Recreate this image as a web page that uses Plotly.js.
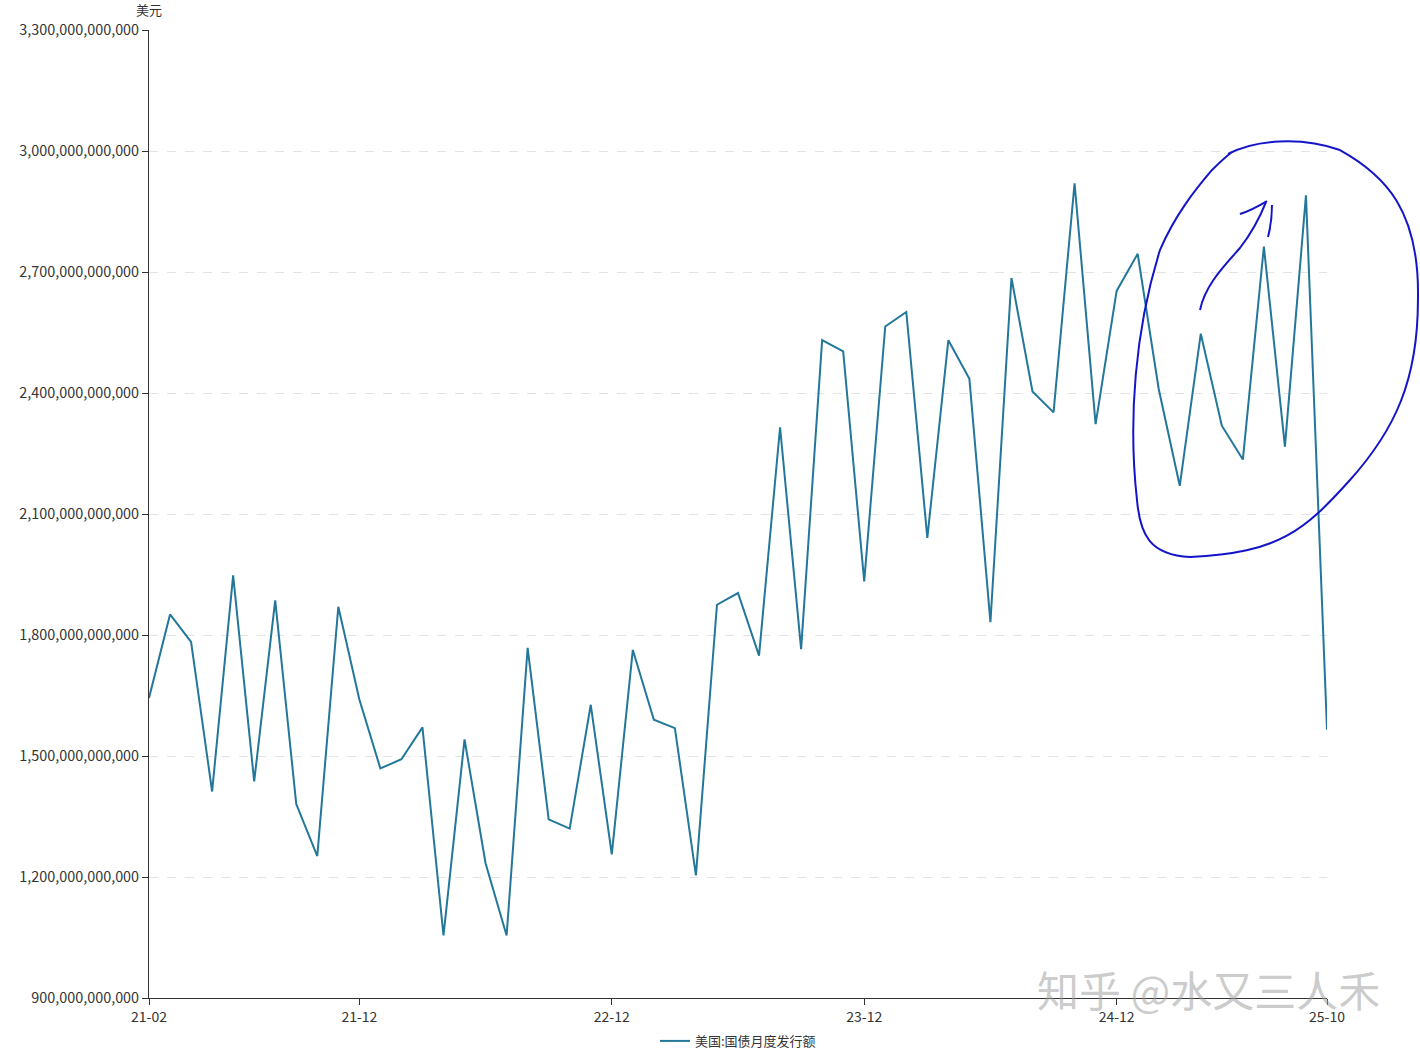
<!DOCTYPE html>
<html>
<head>
<meta charset="utf-8">
<script src="https://cdn.plot.ly/plotly-3.0.1.min.js"></script>
<style>html,body{margin:0;padding:0;background:#fff;}#chart{width:1420px;height:1052px;}</style>
</head>
<body>
<div id="chart"></div>
<script>
// Monthly labels 21-02 .. 25-10
const months = [
 "21-02","21-03","21-04","21-05","21-06","21-07","21-08","21-09","21-10","21-11","21-12",
 "22-01","22-02","22-03","22-04","22-05","22-06","22-07","22-08","22-09","22-10","22-11","22-12",
 "23-01","23-02","23-03","23-04","23-05","23-06","23-07","23-08","23-09","23-10","23-11","23-12",
 "24-01","24-02","24-03","24-04","24-05","24-06","24-07","24-08","24-09","24-10","24-11","24-12",
 "25-01","25-02","25-03","25-04","25-05","25-06","25-07","25-08","25-09","25-10"
];
// Issuance in billions USD
const issuanceBn = [
 1644,1851,1783,1412,1948,1437,1886,1381,1252,1870,1640,
 1469,1492,1571,1055,1541,1234,1055,1768,1343,1320,1627,1256,
 1763,1590,1569,1204,1875,1904,1749,2315,1765,2531,2503,1933,
 2565,2601,2041,2531,2435,1832,2685,2404,2352,2920,2323,2653,
 2745,2410,2170,2547,2319,2235,2763,2267,2890,1565
];
const xTickLabels = ["21-02","21-12","22-12","23-12","24-12","25-10"];
const yTickVals = [900,1200,1500,1800,2100,2400,2700,3000,3300].map(v => v*1e9);
const yTickText = yTickVals.map(v => v.toLocaleString('en-US'));
const seriesName = "美国:国债月度发行额";

const values = issuanceBn.map(v => v*1e9);

// helper for decorative overlay positioned in pixel space
const L = 149, R = 1327, T = 30, B = 998;
const px = (x) => ((x - L) / (R - L)).toFixed(4);
const py = (y) => ((B - y) / (B - T)).toFixed(4);
function pathFrom(pts) {
  let d = "M " + px(pts[0][0]) + "," + py(pts[0][1]);
  for (let i = 1; i + 2 < pts.length; i += 3) {
    d += " C " + px(pts[i][0]) + "," + py(pts[i][1]) + " " + px(pts[i+1][0]) + "," + py(pts[i+1][1]) + " " + px(pts[i+2][0]) + "," + py(pts[i+2][1]);
  }
  return d;
}
const circlePts = [
 [1228,154],[1255,140],[1300,136],[1340,150],
 [1385,175],[1420,210],[1418,300],
 [1418,380],[1395,430],[1350,480],
 [1305,530],[1280,553],[1190,557],
 [1150,555],[1140,535],[1137,500],
 [1128,420],[1135,330],[1160,250],
 [1175,215],[1195,190],[1212,170],
 [1218,164],[1224,158],[1232,152]
];
const arrowPts = [[1200,310],[1205,285],[1225,265],[1240,248],[1250,235],[1258,222],[1266,202]];

const trace = {
  x: months,
  y: values,
  type: 'scatter',
  mode: 'lines',
  name: seriesName,
  line: {color: '#23779a', width: 2},
  hoverinfo: 'x+y'
};

const layout = {
  width: 1420, height: 1052,
  margin: {l: 149, r: 93, t: 30, b: 54},
  paper_bgcolor: '#fff', plot_bgcolor: '#fff',
  font: {family: '"Microsoft YaHei","Noto Sans CJK SC","Noto Sans",sans-serif', size: 13, color: '#333'},
  showlegend: true,
  legend: {orientation: 'h', x: 0.5, xanchor: 'center', xref: 'paper', yref: 'container', y: 0.0105, yanchor: 'middle', font: {size: 13, color: '#333'}},
  xaxis: {
    type: 'category',
    range: [0, months.length - 1],
    tickmode: 'array', tickvals: xTickLabels, ticktext: xTickLabels,
    ticks: 'outside', ticklen: 6, tickcolor: '#333',
    showline: true, linecolor: '#333', linewidth: 1,
    showgrid: false, zeroline: false, automargin: false,
    tickfont: {size: 14, color: '#333'}
  },
  yaxis: {
    range: [900e9, 3300e9],
    tickmode: 'array', tickvals: yTickVals, ticktext: yTickText,
    ticks: 'outside', ticklen: 6, tickcolor: '#333',
    showline: true, linecolor: '#333', linewidth: 1,
    showgrid: true, gridcolor: '#e3e3e3', griddash: 'dash', gridwidth: 1,
    zeroline: false, automargin: false,
    tickfont: {size: 14.4, color: '#333'}
  },
  annotations: [
    {text: '美元', xref: 'paper', yref: 'paper', x: 0, y: 1, xanchor: 'center', yanchor: 'bottom', yshift: 9, showarrow: false, font: {size: 13, color: '#333'}},
    {text: '知乎 @水又三人禾', xref: 'paper', yref: 'paper', x: px(1209), y: py(988), xanchor: 'center', yanchor: 'middle', showarrow: false,
     font: {size: 42, color: 'rgba(160,160,160,0.55)'}}
  ],
  shapes: [
    {type: 'path', xref: 'paper', yref: 'paper', path: pathFrom(circlePts), line: {color: '#1414c8', width: 2}},
    {type: 'path', xref: 'paper', yref: 'paper', path: pathFrom(arrowPts), line: {color: '#1414c8', width: 2}},
    {type: 'path', xref: 'paper', yref: 'paper', path: "M " + px(1240) + "," + py(214) + " Q " + px(1252) + "," + py(210) + " " + px(1267) + "," + py(201), line: {color: '#1414c8', width: 2}},
    {type: 'path', xref: 'paper', yref: 'paper', path: "M " + px(1272) + "," + py(205) + " Q " + px(1272) + "," + py(222) + " " + px(1268) + "," + py(237), line: {color: '#1414c8', width: 2}}
  ]
};

Plotly.newPlot('chart', [trace], layout, {displayModeBar: false, staticPlot: true});
</script>
</body>
</html>
